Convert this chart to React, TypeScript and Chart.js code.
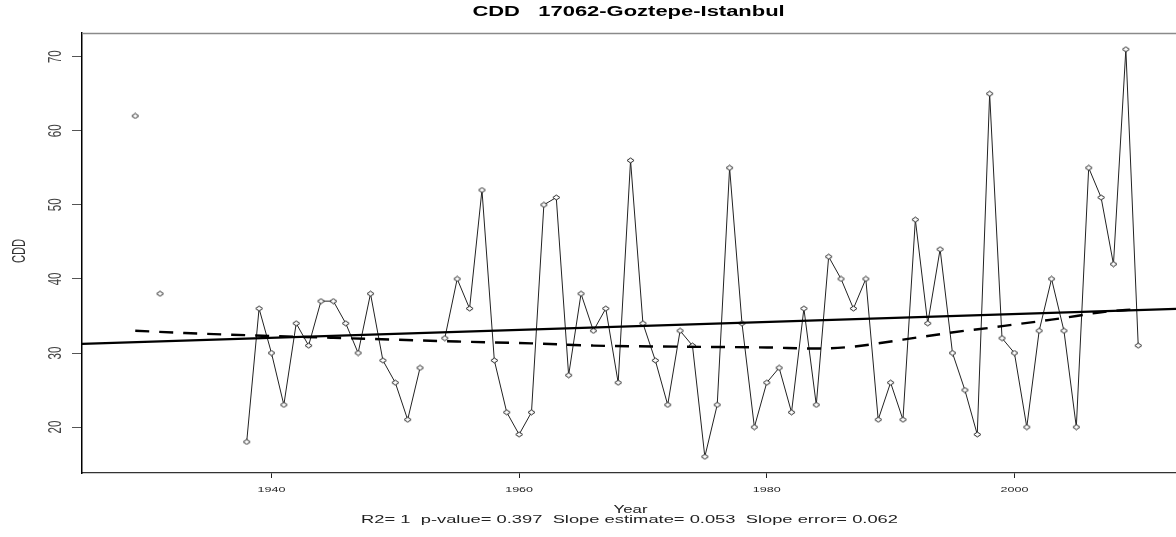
import React, { useEffect, useRef } from "react";
import { Chart, registerables } from "chart.js";

Chart.register(...registerables);

const titleText = "CDD   17062-Goztepe-Istanbul";
const yAxisTitle = "CDD";
const xAxisTitle = "Year";
const subtitleText = "R2= 1  p-value= 0.397  Slope estimate= 0.053  Slope error= 0.062";

const years = [
  1928, 1929, 1930, 1931, 1932, 1933, 1934, 1935, 1936, 1937,
  1938, 1939, 1940, 1941, 1942, 1943, 1944, 1945, 1946, 1947,
  1948, 1949, 1950, 1951, 1952, 1953, 1954, 1955, 1956, 1957,
  1958, 1959, 1960, 1961, 1962, 1963, 1964, 1965, 1966, 1967,
  1968, 1969, 1970, 1971, 1972, 1973, 1974, 1975, 1976, 1977,
  1978, 1979, 1980, 1981, 1982, 1983, 1984, 1985, 1986, 1987,
  1988, 1989, 1990, 1991, 1992, 1993, 1994, 1995, 1996, 1997,
  1998, 1999, 2000, 2001, 2002, 2003, 2004, 2005, 2006, 2007,
  2008, 2009, 2010,
];

const cddValues: (number | null)[] = [
  null, 62, null, 38, null, null, null, null, null, null,
  18, 36, 30, 23, 34, 31, 37, 37, 34, 30,
  38, 29, 26, 21, 28, null, 32, 40, 36, 52,
  29, 22, 19, 22, 50, 51, 27, 38, 33, 36,
  26, 56, 34, 29, 23, 33, 31, 16, 23, 55,
  34, 20, 26, 28, 22, 36, 23, 43, 40, 36,
  40, 21, 26, 21, 48, 34, 44, 30, 25, 19,
  65, 32, 30, 20, 33, 40, 33, 20, 55, 51,
  42, 71, 31,
];

const trendYears = [1924.7, 2013.05];
const trendValues = [31.24, 35.96];

const smoothYears = [1929, 1933, 1938, 1945, 1950, 1955, 1961, 1966, 1973, 1980, 1984, 1987, 1989, 1991, 1993, 1996, 1998, 2000, 2003, 2005, 2007, 2010];
const smoothValues = [33.0, 32.7, 32.4, 32.05, 31.8, 31.55, 31.3, 31.0, 30.85, 30.75, 30.6, 30.85, 31.3, 31.8, 32.3, 33.0, 33.4, 33.85, 34.5, 35.0, 35.5, 35.95];

const xTickValues = [1940, 1960, 1980, 2000];
const yTickValues = [20, 30, 40, 50, 60, 70];

const X_MIN = 1924.7;
const X_MAX = 2013.05;
const Y_MIN = 13.8;
const Y_MAX = 73.2;

const FONT = '"Liberation Sans", Arial, sans-serif';
const SX = 1.568;

function makeDiamond(): HTMLCanvasElement {
  const c = document.createElement("canvas");
  c.width = 9;
  c.height = 7;
  const g = c.getContext("2d")!;
  g.beginPath();
  g.moveTo(4.5, 1);
  g.lineTo(8, 3.5);
  g.lineTo(4.5, 6);
  g.lineTo(1, 3.5);
  g.closePath();
  g.fillStyle = "#ffffff";
  g.fill();
  g.strokeStyle = "#222";
  g.lineWidth = 1;
  g.stroke();
  return c;
}

function drawText(
  ctx: CanvasRenderingContext2D,
  text: string,
  x: number,
  y: number,
  font: string,
  color: string,
  rotate = false
) {
  ctx.save();
  ctx.translate(x, y);
  ctx.scale(SX, 1);
  if (rotate) ctx.rotate(-Math.PI / 2);
  ctx.font = font;
  ctx.fillStyle = color;
  ctx.textAlign = "center";
  ctx.textBaseline = "middle";
  ctx.fillText(text, 0, 0);
  ctx.restore();
}

const textPlugin = {
  id: "rTexts",
  afterDraw(chart: any) {
    const ctx: CanvasRenderingContext2D = chart.ctx;
    const { top, left, right, bottom } = chart.chartArea;
    const xs = chart.scales.x;
    const ys = chart.scales.y;
    const cx = xs.getPixelForValue(1969);

    ctx.save();
    ctx.strokeStyle = "#8a8a8a";
    ctx.lineWidth = 1.5;
    ctx.beginPath();
    ctx.moveTo(left, top + 0.5);
    ctx.lineTo(right, top + 0.5);
    ctx.stroke();
    ctx.restore();

    drawText(ctx, titleText, cx - 2, 12.5, `bold 14px ${FONT}`, "#000");
    drawText(ctx, yAxisTitle, 20, (top + bottom) / 2 - 2, `11.2px ${FONT}`, "#333", true);
    yTickValues.forEach((v) => {
      drawText(ctx, String(v), 56, ys.getPixelForValue(v), `11.5px ${FONT}`, "#444", true);
    });
    xTickValues.forEach((v) => {
      drawText(ctx, String(v), xs.getPixelForValue(v), 490, `8px ${FONT}`, "#222");
    });
    drawText(ctx, xAxisTitle, cx, 510, `10.7px ${FONT}`, "#222");
    drawText(ctx, subtitleText, cx - 1, 520, `11.7px ${FONT}`, "#222");
  },
};

export default function App() {
  const ref = useRef<HTMLCanvasElement | null>(null);

  useEffect(() => {
    if (!ref.current) return;
    const diamond = makeDiamond();
    const chart = new Chart(ref.current, {
      type: "line",
      data: {
        datasets: [
          {
            label: "CDD",
            data: years.map((y, i) => ({ x: y, y: cddValues[i] })),
            borderColor: "#222",
            borderWidth: 1,
            pointStyle: diamond as any,
            pointRadius: 3,
            spanGaps: false,
            order: 2,
          },
          {
            label: "trend",
            data: trendYears.map((y, i) => ({ x: y, y: trendValues[i] })),
            borderColor: "#000",
            borderWidth: 2.2,
            pointRadius: 0,
            order: 0,
          },
          {
            label: "smooth",
            data: smoothYears.map((y, i) => ({ x: y, y: smoothValues[i] })),
            borderColor: "#000",
            borderWidth: 2.4,
            borderDash: [14, 10],
            pointRadius: 0,
            cubicInterpolationMode: "monotone",
            order: 1,
          },
        ],
      },
      options: {
        responsive: false,
        animation: false,
        devicePixelRatio: 1,
        layout: { autoPadding: false, padding: { top: 33, left: 0, right: 0, bottom: 0 } },
        plugins: {
          legend: { display: false },
          tooltip: { enabled: false },
          title: { display: false },
        },
        scales: {
          x: {
            type: "linear",
            min: X_MIN,
            max: X_MAX,
            ticks: { display: false },
            afterBuildTicks: (s: any) => {
              s.ticks = xTickValues.map((v) => ({ value: v }));
            },
            afterFit: (s: any) => {
              s.height = 64;
            },
            grid: {
              display: true,
              drawOnChartArea: false,
              drawTicks: true,
              tickLength: 5,
              color: "#222",
              lineWidth: 1,
            },
            border: { display: true, color: "#333", width: 1.3 },
          },
          y: {
            type: "linear",
            min: Y_MIN,
            max: Y_MAX,
            ticks: { display: false },
            afterBuildTicks: (s: any) => {
              s.ticks = yTickValues.map((v) => ({ value: v }));
            },
            afterFit: (s: any) => {
              s.width = 82;
            },
            grid: {
              display: true,
              drawOnChartArea: false,
              drawTicks: true,
              tickLength: 10,
              color: "#555",
              lineWidth: 1,
            },
            border: { display: true, color: "#000", width: 1.5 },
          },
        },
      },
      plugins: [textPlugin],
    });
    return () => chart.destroy();
  }, []);

  return (
    <div style={{ position: "absolute", left: 0, top: 0, width: 1176, height: 537, background: "#fff" }}>
      <canvas ref={ref} width={1176} height={537} style={{ display: "block" }} />
    </div>
  );
}
